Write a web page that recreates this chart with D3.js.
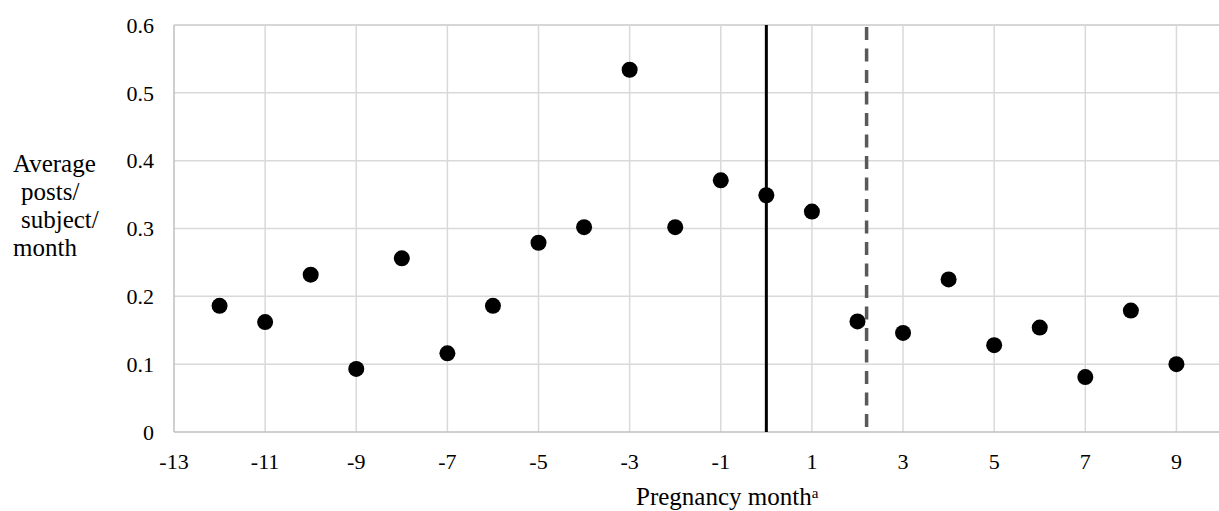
<!DOCTYPE html>
<html>
<head>
<meta charset="utf-8">
<script src="https://cdn.jsdelivr.net/npm/d3@7"></script>
<style>
  body { margin: 0; background: #fff; }
</style>
</head>
<body>
<div id="graph"></div>
<script>
const months = [-12, -11, -10, -9, -8, -7, -6, -5, -4, -3, -2, -1, 0, 1, 2, 3, 4, 5, 6, 7, 8, 9];
const avgPosts = [0.186, 0.162, 0.232, 0.093, 0.256, 0.116, 0.186, 0.279, 0.302, 0.534, 0.302, 0.371, 0.349, 0.325, 0.163, 0.146, 0.225, 0.128, 0.154, 0.081, 0.179, 0.100];
const xTicks = [-13, -11, -9, -7, -5, -3, -1, 1, 3, 5, 7, 9];
const yTicks = [0, 0.1, 0.2, 0.3, 0.4, 0.5, 0.6];
const conceptionMonth = 0;
const dashedMonth = 2.2;
const yTitleLines = ["Average", "posts/", "subject/", "month"];

const width = 1219;
const height = 511;

const svg = d3.select("#graph").append("svg")
    .attr("width", width)
    .attr("height", height)
    .attr("font-family", "'Liberation Serif', 'DejaVu Serif', serif");

const x = d3.scaleLinear().domain([-13, 10]).range([174, 1222]);
const y = d3.scaleLinear().domain([0, 0.6]).range([432, 25]);

// grid
svg.selectAll('.hgrid')
    .data(yTicks.filter(d => d > 0))
    .enter()
    .append('line')
    .attr('x1', x(-13))
    .attr('x2', x(10))
    .attr('y1', d => y(d))
    .attr('y2', d => y(d))
    .attr('stroke', d => d === 0.6 ? '#c8c8c8' : '#d9d9d9')
    .attr('stroke-width', 1.5);

svg.selectAll('.vgrid')
    .data(xTicks.filter(d => d > -13))
    .enter()
    .append('line')
    .attr('x1', d => x(d))
    .attr('x2', d => x(d))
    .attr('y1', y(0))
    .attr('y2', y(0.6))
    .attr('stroke', '#d9d9d9')
    .attr('stroke-width', 1.5);

// axes lines
svg.append('line')
    .attr('x1', x(-13)).attr('x2', x(-13))
    .attr('y1', y(0)).attr('y2', y(0.6))
    .attr('stroke', '#bfbfbf').attr('stroke-width', 1.5);
svg.append('line')
    .attr('x1', x(-13)).attr('x2', x(10))
    .attr('y1', y(0)).attr('y2', y(0))
    .attr('stroke', '#bfbfbf').attr('stroke-width', 1.5);

// tick labels
svg.selectAll('.ylab')
    .data(yTicks)
    .enter()
    .append('text')
    .attr('x', 154)
    .attr('y', d => y(d))
    .attr('dy', '0.35em')
    .attr('text-anchor', 'end')
    .attr('font-size', 22)
    .text(d => d === 0 ? '0' : d.toFixed(1));

svg.selectAll('.xlab')
    .data(xTicks)
    .enter()
    .append('text')
    .attr('x', d => x(d))
    .attr('y', 461)
    .attr('dy', '0.35em')
    .attr('text-anchor', 'middle')
    .attr('font-size', 22)
    .text(d => d);

// reference lines
svg.append('line')
    .attr('x1', x(conceptionMonth)).attr('x2', x(conceptionMonth))
    .attr('y1', y(0)).attr('y2', y(0.6))
    .attr('stroke', '#000').attr('stroke-width', 3);

svg.append('line')
    .attr('x1', x(dashedMonth)).attr('x2', x(dashedMonth))
    .attr('y1', y(0.6) + 2).attr('y2', y(0))
    .attr('stroke', '#595959').attr('stroke-width', 3.5)
    .attr('stroke-dasharray', '13,8.5');

// points
svg.selectAll('circle')
    .data(months)
    .enter()
    .append('circle')
    .attr('cx', d => x(d))
    .attr('cy', (d, i) => y(avgPosts[i]))
    .attr('r', 8)
    .attr('fill', '#000');

// axis titles
const xt = svg.append('text')
    .attr('x', 636)
    .attr('y', 505)
    .attr('font-size', 25);
xt.append('tspan').text('Pregnancy month');
xt.append('tspan').attr('dy', -7).attr('font-size', 15).text('a');

svg.selectAll('.ytitle')
    .data(yTitleLines)
    .enter()
    .append('text')
    .attr('x', (d, i) => (i === 1 || i === 2) ? 21 : 13)
    .attr('y', (d, i) => 172 + i * 28)
    .attr('font-size', 25)
    .text(d => d);
</script>
</body>
</html>
